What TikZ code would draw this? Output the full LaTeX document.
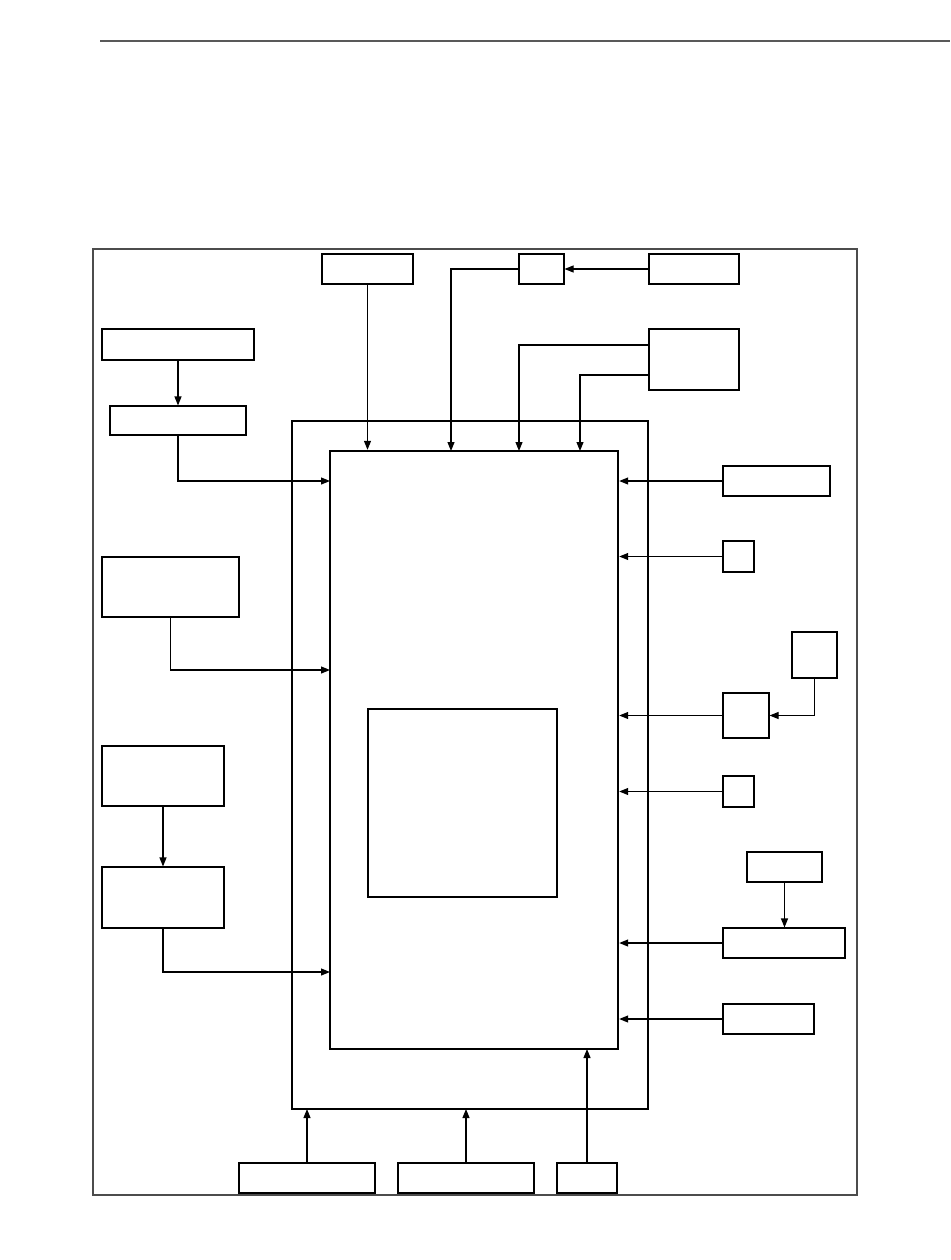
\documentclass[tikz,border=0pt]{standalone}
\usetikzlibrary{arrows.meta,fit}
\begin{document}
\begin{tikzpicture}[x=1pt,y=-1pt,
  box/.style={draw=black,line width=1.1pt,inner sep=0pt},
  thickbox/.style={draw=black,line width=2.4pt,inner sep=0pt},
  arr/.style={line width=1.1pt,-{Triangle[length=9pt,width=7pt]}},
  ln/.style={line width=1.1pt}]
\useasboundingbox (0,0) rectangle (950,1260);
% top rule and frame
\draw[line width=2pt,black!65] (100,41) -- (950,41);
\node[draw=black!70,line width=1.2pt,inner sep=0pt,fit={(93,249)(857,1195)}] (frame) {};
% main boxes
\node[thickbox,fit={(292,421)(648,1109)}] (big) {};
\node[thickbox,fit={(330,451)(618,1049)}] (inner) {};
\node[box,line width=1.5pt,fit={(368,709)(557,897)}] (core) {};
% top boxes
\node[box,fit={(322,254)(413,284)}] (A) {};
\node[box,fit={(519,254)(564,284)}] (B) {};
\node[box,fit={(649,254)(739,284)}] (C) {};
\node[box,fit={(649,329)(739,390)}] (D) {};
% left boxes
\node[box,fit={(102,329)(254,360)}] (E) {};
\node[box,fit={(110,406)(246,435)}] (F) {};
\node[box,fit={(102,557)(239,617)}] (G) {};
\node[box,fit={(102,746)(224,806)}] (H) {};
\node[box,fit={(102,867)(224,928)}] (I) {};
% right boxes
\node[box,fit={(723,466)(830,496)}] (J) {};
\node[box,fit={(723,541)(754,572)}] (K) {};
\node[box,fit={(792,632)(837,678)}] (L) {};
\node[box,fit={(723,693)(769,738)}] (M) {};
\node[box,fit={(723,776)(754,807)}] (N) {};
\node[box,fit={(747,852)(822,882)}] (O) {};
\node[box,fit={(723,928)(845,958)}] (P) {};
\node[box,fit={(723,1004)(814,1034)}] (Q) {};
% bottom boxes
\node[box,fit={(239,1163)(375,1193)}] (R) {};
\node[box,fit={(398,1163)(534,1193)}] (S) {};
\node[box,fit={(557,1163)(617,1193)}] (T) {};
% attachment coordinates
\coordinate (tB) at (451,451);
\coordinate (tD1) at (519,451);
\coordinate (tD2) at (580,451);
\coordinate (d1) at (649,345);
\coordinate (d2) at (649,375);
\coordinate (lF) at (330,481);
\coordinate (lG) at (330,670);
\coordinate (lI) at (330,972);
\coordinate (bR) at (307,1109);
\coordinate (bS) at (466,1109);
\coordinate (bT) at (587,1049);
% top connectors
\draw[arr] (A.south) -- (A.south |- inner.north);
\draw[arr] (B.west) -| (tB);
\draw[arr] (C.west) -- (B.east);
\draw[arr] (d1) -| (tD1);
\draw[arr] (d2) -| (tD2);
% left connectors
\draw[arr] (E.south -| F.north) -- (F.north);
\draw[arr] (F.south) |- (lF);
\draw[arr] (G.south) |- (lG);
\draw[arr] (H.south) -- (I.north);
\draw[arr] (I.south) |- (lI);
% right connectors
\draw[arr] (J.west) -- (J.west -| inner.east);
\draw[arr] (K.west) -- (K.west -| inner.east);
\draw[arr] (L.south) |- (M.east);
\draw[arr] (M.west) -- (M.west -| inner.east);
\draw[arr] (N.west) -- (N.west -| inner.east);
\draw[arr] (O.south) -- (O.south |- P.north);
\draw[arr] (P.west) -- (P.west -| inner.east);
\draw[arr] (Q.west) -- (Q.west -| inner.east);
% bottom connectors
\draw[arr] (R.north -| bR) -- (bR);
\draw[arr] (S.north -| bS) -- (bS);
\draw[arr] (T.north -| bT) -- (bT);
\end{tikzpicture}
\end{document}
